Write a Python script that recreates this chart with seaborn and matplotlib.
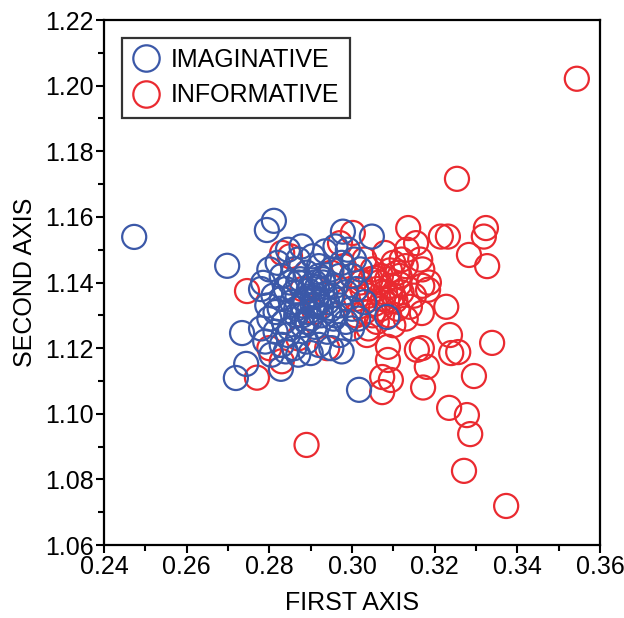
import numpy as np
import pandas as pd
import seaborn as sns
import matplotlib.pyplot as plt
from matplotlib.lines import Line2D
from matplotlib.ticker import MultipleLocator

# pontos (eixo 1, eixo 2)
imag_x = [0.2473, 0.2698, 0.2811, 0.2794, 0.2719, 0.2744, 0.2734, 0.2828, 0.3017, 0.2785,
          0.2978, 0.3048,
          0.2845, 0.2878, 0.2905, 0.2935, 0.2960, 0.2990, 0.3005, 0.2870, 0.2820, 0.2800,
          0.2830, 0.2860, 0.2890, 0.2920, 0.2950, 0.2975, 0.3020, 0.3000,
          0.2780, 0.2810, 0.2840, 0.2870, 0.2900, 0.2930, 0.2960, 0.2985, 0.3010, 0.2795,
          0.2825, 0.2855, 0.2885, 0.2915, 0.2940, 0.2970, 0.3000, 0.3030, 0.2800, 0.2835,
          0.2865, 0.2895, 0.2925, 0.2955, 0.2985, 0.3015, 0.2780, 0.2815, 0.2850, 0.2880,
          0.2910, 0.2940, 0.2970, 0.3000,
          0.2790, 0.2830, 0.2860, 0.2890, 0.2920, 0.2950, 0.2975, 0.2870, 0.2840, 0.2900,
          0.2805, 0.2880, 0.2905, 0.2860, 0.2890, 0.2920, 0.2950, 0.2830, 0.2970, 0.3085,
          0.2875, 0.2895, 0.2915, 0.2935, 0.2885, 0.2905, 0.2925, 0.2945, 0.2865, 0.2910,
          0.2930, 0.2880, 0.2900, 0.2920, 0.2850, 0.2960, 0.2815, 0.2845]
imag_y = [1.1539, 1.1451, 1.1588, 1.1560, 1.1109, 1.1152, 1.1246, 1.1137, 1.1073, 1.1399,
          1.1555, 1.1540,
          1.1500, 1.1510, 1.1480, 1.1495, 1.1510, 1.1500, 1.1470, 1.1470, 1.1460, 1.1440,
          1.1420, 1.1440, 1.1430, 1.1450, 1.1440, 1.1460, 1.1440, 1.1420,
          1.1380, 1.1360, 1.1380, 1.1400, 1.1390, 1.1400, 1.1390, 1.1370, 1.1380, 1.1330,
          1.1320, 1.1340, 1.1350, 1.1360, 1.1340, 1.1330, 1.1320, 1.1340, 1.1290, 1.1280,
          1.1300, 1.1310, 1.1300, 1.1290, 1.1280, 1.1290, 1.1260, 1.1250, 1.1260, 1.1270,
          1.1265, 1.1250, 1.1240, 1.1260,
          1.1220, 1.1210, 1.1200, 1.1220, 1.1210, 1.1200, 1.1190, 1.1180, 1.1190, 1.1185,
          1.1180, 1.1330, 1.1330, 1.1370, 1.1280, 1.1420, 1.1360, 1.1350, 1.1420, 1.1295,
          1.1410, 1.1375, 1.1385, 1.1365, 1.1345, 1.1355, 1.1325, 1.1315, 1.1320, 1.1400,
          1.1410, 1.1300, 1.1290, 1.1340, 1.1400, 1.1300, 1.1310, 1.1240]

info_x = [0.3544, 0.3254, 0.3136, 0.3215, 0.3232, 0.3324, 0.3319, 0.3283, 0.3327, 0.3155,
          0.3165, 0.3133, 0.3186, 0.3170, 0.3228, 0.3339, 0.3295, 0.3237, 0.3257, 0.3240,
          0.3169, 0.3181, 0.3172, 0.3169, 0.3184, 0.3235, 0.3278, 0.3286, 0.3271, 0.3373,
          0.2890, 0.3073, 0.3094, 0.3073, 0.3087, 0.3087, 0.3157, 0.3036,
          0.3002, 0.2971, 0.3080, 0.3092, 0.3110, 0.3115, 0.3140, 0.3085, 0.3056, 0.3170,
          0.3030, 0.3050, 0.3070, 0.3100, 0.3120, 0.3130, 0.3060, 0.3080, 0.3100, 0.3120,
          0.3040, 0.3020, 0.3070, 0.3090, 0.3110, 0.3050, 0.3030, 0.3010, 0.3060, 0.3100,
          0.3040, 0.3150, 0.3130, 0.3000,
          0.2746, 0.2770, 0.2831, 0.2850, 0.2880, 0.2910, 0.2950, 0.2940, 0.2870, 0.2830,
          0.2800, 0.2990, 0.2980,
          0.3065, 0.3085, 0.3105, 0.3045, 0.3075, 0.3095, 0.3025, 0.3055, 0.3115, 0.3010]
info_y = [1.2021, 1.1716, 1.1566, 1.1540, 1.1540, 1.1566, 1.1540, 1.1484, 1.1450, 1.1520,
          1.1470, 1.1500, 1.1400, 1.1390, 1.1326, 1.1216, 1.1115, 1.1240, 1.1188, 1.1185,
          1.1200, 1.1143, 1.1080, 1.1307, 1.1378, 1.1018, 1.0996, 1.0938, 1.0826, 1.0719,
          1.0905, 1.1066, 1.1103, 1.1112, 1.1164, 1.1204, 1.1195, 1.1240,
          1.1551, 1.1520, 1.1490, 1.1437, 1.1430, 1.1395, 1.1326, 1.1346, 1.1414, 1.1440,
          1.1470, 1.1440, 1.1420, 1.1460, 1.1470, 1.1450, 1.1380, 1.1370, 1.1360, 1.1370,
          1.1360, 1.1400, 1.1320, 1.1300, 1.1320, 1.1300, 1.1310, 1.1350, 1.1280, 1.1270,
          1.1260, 1.1360, 1.1290, 1.1420,
          1.1374, 1.1110, 1.1490, 1.1480, 1.1380, 1.1310, 1.1430, 1.1200, 1.1230, 1.1160,
          1.1200, 1.1350, 1.1450,
          1.1400, 1.1410, 1.1345, 1.1410, 1.1350, 1.1390, 1.1380, 1.1335, 1.1420, 1.1300]

blue = '#3b58a8'
red = '#ea2a30'

# vermelho primeiro para o azul ficar por cima
df = pd.DataFrame({
    'x': info_x + imag_x,
    'y': info_y + imag_y,
    'grupo': ['INFORMATIVE'] * len(info_x) + ['IMAGINATIVE'] * len(imag_x),
})

sns.set_style('ticks')
plt.rcParams['font.family'] = ['Liberation Sans', 'DejaVu Sans']
plt.rcParams['text.color'] = 'black'
plt.rcParams['axes.labelcolor'] = 'black'
plt.rcParams['xtick.color'] = 'black'
plt.rcParams['ytick.color'] = 'black'

fig = plt.figure(figsize=(6.24, 6.18), dpi=100)
ax = fig.add_axes([0.1667, 0.1181, 0.7948, 0.8495])

sns.scatterplot(data=df, x='x', y='y', hue='grupo',
                hue_order=['IMAGINATIVE', 'INFORMATIVE'],
                palette={'IMAGINATIVE': blue, 'INFORMATIVE': red},
                s=300, legend=False, ax=ax)

# circulos vazios
coll = ax.collections[0]
coll.set_edgecolors(coll.get_facecolors())
coll.set_facecolors('none')
coll.set_linewidths(1.6)

ax.set_xlim(0.24, 0.36)
ax.set_ylim(1.06, 1.22)
ax.xaxis.set_major_locator(MultipleLocator(0.02))
ax.xaxis.set_minor_locator(MultipleLocator(0.01))
ax.yaxis.set_major_locator(MultipleLocator(0.02))
ax.yaxis.set_minor_locator(MultipleLocator(0.01))
ax.xaxis.set_major_formatter(lambda v, p: f'{v:.2f}')
ax.yaxis.set_major_formatter(lambda v, p: f'{v:.2f}')
ax.tick_params(which='major', length=6, width=1.5, labelsize=18, pad=1.5)
ax.tick_params(which='minor', length=4.5, width=1.5)
for sp in ax.spines.values():
    sp.set_linewidth(1.6)
    sp.set_color('black')

ax.set_xlabel('FIRST AXIS', fontsize=18, labelpad=8)
ax.set_ylabel('SECOND AXIS', fontsize=18, labelpad=6)

handles = [Line2D([], [], marker='o', ls='none', markersize=19, markerfacecolor='none',
                  markeredgecolor=c, markeredgewidth=1.6) for c in (blue, red)]
leg = ax.legend(handles, ['IMAGINATIVE', 'INFORMATIVE'], loc='upper left', fontsize=18,
                frameon=True, fancybox=False, edgecolor='black', borderaxespad=0.7,
                handletextpad=0.45, labelspacing=0.45, borderpad=0.42, handlelength=1.1)
leg.get_frame().set_linewidth(1.6)

fig.savefig('out.png', dpi=100)
